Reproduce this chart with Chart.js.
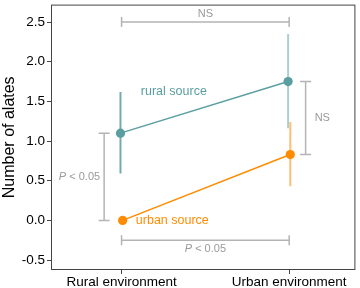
<!DOCTYPE html>
<html>
<head>
<meta charset="utf-8">
<script src="https://cdn.jsdelivr.net/npm/chart.js@4/dist/chart.umd.min.js"></script>
<style>
  html, body { margin: 0; padding: 0; background: #fff; }
  #wrap { width: 360px; height: 288px; }
</style>
</head>
<body>
<div id="wrap"><canvas id="alatesChart" width="360" height="288"></canvas></div>
<script>
// Data
const categories = ['Rural environment', 'Urban environment'];
const catPos = [0, 1];
const ruralMean = [1.1, 1.75];
const ruralLow = [0.59, 1.16];
const ruralHigh = [1.62, 2.35];
const urbanMean = [0.0, 0.83];
const urbanLow = [0.0, 0.43];
const urbanHigh = [0.0, 1.24];
const yTicks = [-0.5, 0, 0.5, 1, 1.5, 2, 2.5];

const teal = '#5a9ea1';
const orange = '#ff8c00';
const grey = '#b4b4b4';
const greyText = '#9a9a9a';
const dodge = 0.0065;

function points(means, shift) {
  return catPos.map((x, i) => ({ x: x + shift, y: means[i] }));
}

function errorBar(i, low, high, shift, color) {
  return {
    data: [{ x: catPos[i] + shift, y: low[i] }, { x: catPos[i] + shift, y: high[i] }],
    borderColor: color,
    borderWidth: 2,
    pointRadius: 0,
    showLine: true,
    order: 5
  };
}

const datasets = [
  errorBar(0, ruralLow, ruralHigh, -dodge, 'rgba(90,158,161,0.85)'),
  errorBar(1, ruralLow, ruralHigh, -dodge, 'rgba(90,158,161,0.5)'),
  errorBar(1, urbanLow, urbanHigh, dodge, 'rgba(255,140,0,0.55)'),
  {
    label: 'rural source',
    data: points(ruralMean, -dodge),
    borderColor: teal,
    backgroundColor: teal,
    borderWidth: 1.5,
    pointRadius: 4.6,
    pointBorderWidth: 0,
    showLine: true,
    order: 1
  },
  {
    label: 'urban source',
    data: points(urbanMean, dodge),
    borderColor: orange,
    backgroundColor: orange,
    borderWidth: 1.5,
    pointRadius: 4.6,
    pointBorderWidth: 0,
    showLine: true,
    order: 1
  }
];

// Significance brackets and labels, positioned from the data values
const annotations = {
  id: 'annotations',
  afterDatasetsDraw(chart) {
    const { ctx, scales: { x, y } } = chart;
    ctx.save();
    ctx.strokeStyle = grey;
    ctx.lineWidth = 1.5;

    function hBracket(x0, x1, yv) {
      const py = y.getPixelForValue(yv);
      const a = x.getPixelForValue(x0), b = x.getPixelForValue(x1);
      ctx.beginPath();
      ctx.moveTo(a, py); ctx.lineTo(b, py);
      ctx.moveTo(a, py - 5); ctx.lineTo(a, py + 5);
      ctx.moveTo(b, py - 5); ctx.lineTo(b, py + 5);
      ctx.stroke();
    }
    function vBracket(xv, y0, y1) {
      const px = x.getPixelForValue(xv);
      const a = y.getPixelForValue(y0), b = y.getPixelForValue(y1);
      ctx.beginPath();
      ctx.moveTo(px, a); ctx.lineTo(px, b);
      ctx.moveTo(px - 5.5, a); ctx.lineTo(px + 5.5, a);
      ctx.moveTo(px - 5.5, b); ctx.lineTo(px + 5.5, b);
      ctx.stroke();
    }
    function pText(cx, cy, align) {
      // italic P followed by " < 0.05"
      const rest = ' < 0.05';
      ctx.font = 'italic 11px "Liberation Sans", Arial, sans-serif';
      const wp = ctx.measureText('P').width;
      ctx.font = '11px "Liberation Sans", Arial, sans-serif';
      const wr = ctx.measureText(rest).width;
      let left = cx - (wp + wr) / 2;
      if (align === 'right') left = cx - (wp + wr);
      ctx.textAlign = 'left';
      ctx.font = 'italic 11px "Liberation Sans", Arial, sans-serif';
      ctx.fillText('P', left, cy);
      ctx.font = '11px "Liberation Sans", Arial, sans-serif';
      ctx.fillText(rest, left + wp, cy);
    }

    hBracket(catPos[0], catPos[1], 2.5);
    hBracket(catPos[0], catPos[1], -0.25);
    vBracket(-0.104, ruralMean[0], urbanMean[0]);
    vBracket(1.098, ruralMean[1], urbanMean[1]);

    ctx.fillStyle = greyText;
    ctx.textBaseline = 'middle';
    ctx.font = '11px "Liberation Sans", Arial, sans-serif';
    ctx.textAlign = 'center';
    ctx.fillText('NS', x.getPixelForValue(0.5), y.getPixelForValue(2.6));
    ctx.textAlign = 'left';
    ctx.fillText('NS', x.getPixelForValue(1.152), y.getPixelForValue((ruralMean[1] + urbanMean[1]) / 2));
    pText(x.getPixelForValue(0.5), y.getPixelForValue(-0.36), 'center');
    pText(x.getPixelForValue(-0.128), y.getPixelForValue((ruralMean[0] + urbanMean[0]) / 2), 'right');

    ctx.font = '12.5px "Liberation Sans", Arial, sans-serif';
    ctx.textAlign = 'left';
    ctx.fillStyle = teal;
    ctx.fillText('rural source', x.getPixelForValue(0.115), y.getPixelForValue(1.62));
    ctx.fillStyle = orange;
    ctx.fillText('urban source', x.getPixelForValue(0.085), y.getPixelForValue(0));

    // plot frame
    const a = chart.chartArea;
    ctx.strokeStyle = '#444';
    ctx.lineWidth = 1;
    ctx.strokeRect(a.left + 0.5, a.top + 0.5, a.right - a.left - 1, a.bottom - a.top - 1);
    ctx.restore();
  }
};

new Chart(document.getElementById('alatesChart'), {
  type: 'scatter',
  data: { datasets },
  options: {
    responsive: false,
    animation: false,
    layout: { padding: { top: 1, right: 3, left: 0, bottom: 0 } },
    plugins: { legend: { display: false }, tooltip: { enabled: false } },
    scales: {
      x: {
        type: 'linear',
        min: -0.421,
        max: 1.395,
        afterBuildTicks: s => { s.ticks = catPos.map(v => ({ value: v })); },
        afterFit: s => { s.height = 18; s.paddingLeft = 0; s.paddingRight = 0; },
        ticks: {
          callback: v => categories[catPos.indexOf(v)],
          color: '#000',
          padding: 0,
          maxRotation: 0,
          font: { family: '"Liberation Sans", Arial, sans-serif', size: 13.5 }
        },
        grid: { drawOnChartArea: false, tickLength: 4, color: '#444' },
        border: { display: false }
      },
      y: {
        min: -0.625,
        max: 2.72,
        afterBuildTicks: s => { s.ticks = yTicks.map(v => ({ value: v })); },
        afterFit: s => { s.width = 51; s.paddingTop = 0; s.paddingBottom = 0; },
        ticks: {
          callback: v => v.toFixed(1),
          color: '#000',
          padding: 2,
          font: { family: '"Liberation Sans", Arial, sans-serif', size: 13.5 }
        },
        title: {
          display: true,
          text: 'Number of alates',
          color: '#000',
          padding: 0,
          font: { family: '"Liberation Sans", Arial, sans-serif', size: 16 }
        },
        grid: { drawOnChartArea: false, tickLength: 4, color: '#444' },
        border: { display: false }
      }
    }
  },
  plugins: [annotations]
});
</script>
</body>
</html>
